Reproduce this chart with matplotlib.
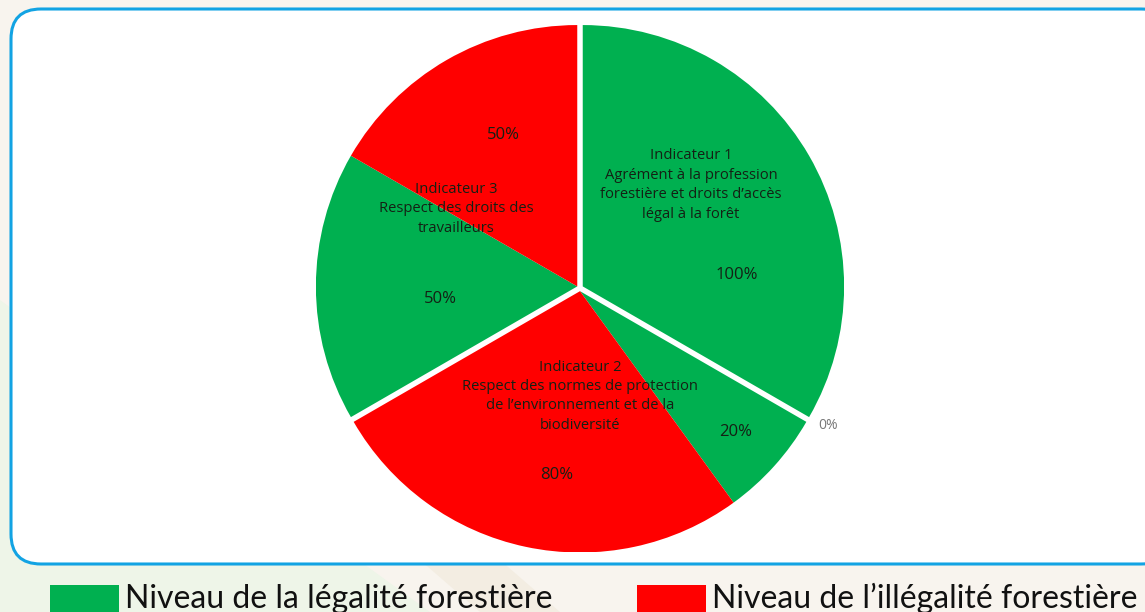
import matplotlib.pyplot as plt
from matplotlib.patches import Wedge, FancyBboxPatch, Rectangle, Polygon
import numpy as np

# ---- data ----
indicators = ['Indicateur 1\nAgrément à la profession\nforestière et droits d\u2019accès\nlégal à la forêt',
              'Indicateur 2\nRespect des normes de protection\nde l\u2019environnement et de la\nbiodiversité',
              'Indicateur 3\nRespect des droits des\ntravailleurs']
legal = [100, 20, 50]      # % legalite
illegal = [0, 80, 50]      # % illegalite
series_names = ['Niveau de la légalité forestière', 'Niveau de l\u2019illégalité forestière']
colors = ['#00b050', '#ff0000']

# label spots (in pie units, radius = 1)
title_pos = [(0.42, 0.39), (0.0, -0.41), (-0.47, 0.30)]
legal_pos = [(0.595, 0.05), (0.59, -0.545), (-0.53, -0.04)]
illegal_pos = [(0.94, -0.52), (-0.09, -0.71), (-0.29, 0.58)]

W, H = 1145, 612
fig = plt.figure(figsize=(W / 100, H / 100), dpi=100)
fig.patch.set_facecolor('#f8f4ee')

# background + rounded frame
bg = fig.add_axes([0, 0, 1, 1])
bg.set_xlim(0, W)
bg.set_ylim(H, 0)
bg.axis('off')
bg.add_patch(Polygon([(0, 612), (0, 300), (430, 612)], closed=True, fc='#eef5e8', ec='none'))
bg.add_patch(Polygon([(420, 560), (500, 560), (560, 612), (480, 612)], closed=True, fc='#f3ede2', ec='none'))
bg.add_patch(FancyBboxPatch((11, 9), 1160, 555, boxstyle='round,pad=0,rounding_size=30',
                            fc='white', ec='#12a3e3', lw=2.2))

# legend
for i, name in enumerate(series_names):
    x0 = [50, 637][i]
    bg.add_patch(Rectangle((x0, 585), 69, 30, fc=colors[i], ec='none'))
    bg.text(x0 + 75, 608, name, fontsize=23, family=['Liberation Sans Narrow', 'Lato'],
            color='#111111', va='baseline', ha='left')

# pie
cx, cy, r = 580, 288, 264
ax = fig.add_axes([(cx - r) / W, (H - cy - r) / H, 2 * r / W, 2 * r / H])
ax.set_xlim(-1, 1)
ax.set_ylim(-1, 1)
ax.axis('off')

n = len(indicators)
span = 360 / n
start = 90
gap = 0.012
for i in range(n):
    a_hi = start - i * span
    a_lo = a_hi - span
    mid = np.deg2rad((a_hi + a_lo) / 2)
    off = (gap * np.cos(mid), gap * np.sin(mid))
    g = span * legal[i] / 100
    ax.add_patch(Wedge(off, 0.99, a_hi - g, a_hi, fc=colors[0], ec='none'))
    if illegal[i] > 0:
        ax.add_patch(Wedge(off, 0.99, a_lo, a_hi - g, fc=colors[1], ec='none'))

tc = '#142014'
for i in range(n):
    ax.text(*title_pos[i], indicators[i], ha='center', va='center', fontsize=10.6,
            color=tc, linespacing=1.4, family='Open Sans', clip_on=False)
    ax.text(*legal_pos[i], f'{legal[i]}%', ha='center', va='center', fontsize=12,
            color=tc, family='Open Sans', clip_on=False)
    ax.text(*illegal_pos[i], f'{illegal[i]}%', ha='center', va='center',
            fontsize=10 if illegal[i] == 0 else 12,
            color='#777777' if illegal[i] == 0 else tc, family='Open Sans', clip_on=False)

fig.savefig('out.png', dpi=100)
